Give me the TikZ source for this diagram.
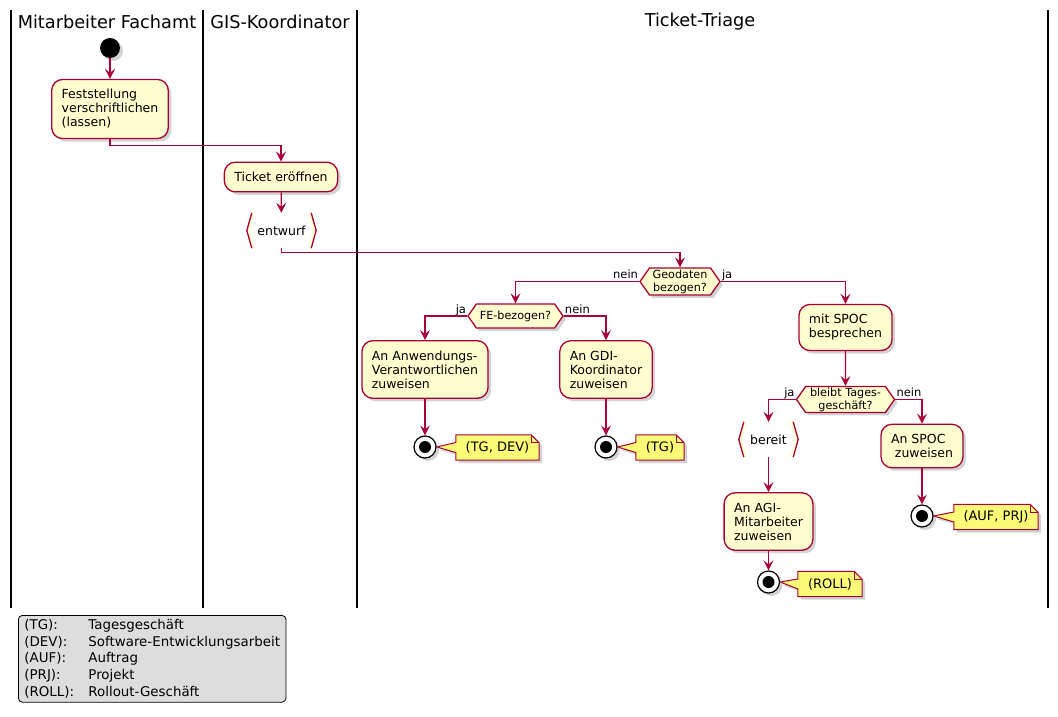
\documentclass[tikz,border=0pt]{standalone}
\usepackage{fontspec}
\setmainfont{DejaVu Sans}
\usetikzlibrary{positioning,shapes,shapes.symbols,arrows.meta,shadows,backgrounds}

\definecolor{umlred}{HTML}{A80036}
\definecolor{umlfill}{HTML}{FEFECE}
\definecolor{notefill}{HTML}{FBFB77}
\definecolor{legendfill}{HTML}{DDDDDD}

\newcommand{\drawnote}[2]{%
	\begin{pgfonlayer}{background}
	\draw[notebg] (#1.north west) -- ([xshift=-8pt]#1.north east) -- ([yshift=-8pt]#1.north east) -- (#1.south east) -- (#1.south west) -- ([yshift=-5pt]#1.west) -- (#2) -- ([yshift=5pt]#1.west) -- cycle;
	\draw[notefold] ([xshift=-8pt]#1.north east) |- ([yshift=-8pt]#1.north east);
	\end{pgfonlayer}}
\newcommand{\drawbrackets}[1]{%
	\fill[umlfill] ([xshift=5pt]#1.north west) -- (#1.west) -- ([xshift=5pt]#1.south west) -- ([xshift=8pt]#1.south west) -- ([xshift=3pt]#1.west) -- ([xshift=8pt]#1.north west) -- cycle;
	\fill[umlfill] ([xshift=-5pt]#1.north east) -- (#1.east) -- ([xshift=-5pt]#1.south east) -- ([xshift=-8pt]#1.south east) -- ([xshift=-3pt]#1.east) -- ([xshift=-8pt]#1.north east) -- cycle;
	\draw[bracketline] ([xshift=5pt]#1.north west) -- (#1.west) -- ([xshift=5pt]#1.south west);
	\draw[bracketline] ([xshift=-5pt]#1.north east) -- (#1.east) -- ([xshift=-5pt]#1.south east);}

\begin{document}
\begin{tikzpicture}[x=1pt,y=-1pt,
	umlshadow/.style={drop shadow={shadow xshift=3pt,shadow yshift=-3pt,opacity=0.35}},
	lane/.style={line width=1.5pt},
	lanetitle/.style={font=\fontsize{17.7}{20}\selectfont},
	action/.style={draw=umlred,fill=umlfill,line width=1.3pt,rounded corners=11pt,align=left,inner xsep=10pt,inner ysep=10pt,font=\fontsize{12.5}{14}\selectfont,umlshadow},
	decision/.style={draw=umlred,fill=umlfill,line width=1.3pt,shape=signal,signal from=nowhere,signal to=west and east,signal pointer angle=110,inner sep=1pt,align=center,font=\fontsize{11.2}{13}\selectfont,umlshadow},
	bracket/.style={minimum height=35pt,inner sep=0pt,font=\fontsize{12.5}{14}\selectfont},
	bracketline/.style={draw=umlred,line width=1.3pt},
	startnode/.style={circle,fill=black,minimum size=20pt,inner sep=0pt,umlshadow},
	endnode/.style={circle,draw=black,fill=white,line width=1.2pt,minimum size=22pt,inner sep=0pt,umlshadow,path picture={\fill[black] (path picture bounding box.center) circle (6pt);}},
	note/.style={minimum height=25pt,inner sep=0pt,font=\fontsize{13}{15}\selectfont},
	notebg/.style={draw=umlred,fill=notefill,line width=1pt,umlshadow},
	notefold/.style={draw=umlred,line width=1pt},
	lbl/.style={inner sep=1pt,font=\fontsize{11.5}{13}\selectfont},
	flow/.style={draw=umlred,line width=1.2pt,-{Stealth[length=10pt,width=10pt,inset=4pt]}}]
	\useasboundingbox (0,0) rectangle (1058,717);

	\draw[lane] (11,10) -- (11,608);
	\draw[lane] (203,10) -- (203,608);
	\draw[lane] (357,10) -- (357,608);
	\draw[lane] (1048,10) -- (1048,608);
	\node[lanetitle] (t1) at (107,22) {Mitarbeiter Fachamt};
	\node[lanetitle] (t2) at (280,22) {GIS-Koordinator};
	\node[lanetitle] (t3) at (700,22) {Ticket-Triage};

	\node[startnode] (start) at (110,48) {};
	\node[action] (fest) at (110,109) {Feststellung\\verschriftlichen\\(lassen)};
	\node[action] (ticket) at (281,177) {Ticket eröffnen};
	\node[bracket,minimum width=69pt] (ent) at (281.5,230.5) {entwurf};
	\drawbrackets{ent}

	\node[decision,minimum width=80pt,minimum height=27pt] (geo) at (680,281.5) {Geodaten\\bezogen?};
	\node[decision,minimum width=95pt,minimum height=24pt] (fe) at (515.5,316) {FE-bezogen?};
	\node[action] (anw) at (425,369.5) {An Anwendungs-\\Verantwortlichen\\zuweisen};
	\node[action] (gdi) at (606,369.5) {An GDI-\\Koordinator\\zuweisen};
	\node[endnode] (e1) at (425,447) {};
	\node[endnode] (e2) at (606,447) {};
	\node[note,minimum width=83pt] (n1) at (497.5,447.5) {(TG, DEV)};
	\node[note,minimum width=48pt] (n2) at (660,447.5) {(TG)};
	\drawnote{n1}{e1.east}
	\drawnote{n2}{e2.east}

	\node[action] (spoc) at (845.5,327.5) {mit SPOC\\besprechen};
	\node[decision,minimum width=98pt,minimum height=25pt] (tag) at (845.5,399.5) {bleibt Tages-\\geschäft?};
	\node[bracket,minimum width=59pt] (ber) at (768.5,439.5) {bereit};
	\drawbrackets{ber}
	\node[action] (agi) at (768.5,521.5) {An AGI-\\Mitarbeiter\\zuweisen};
	\node[endnode] (e3) at (768.5,582) {};
	\node[note,minimum width=64pt] (n3) at (830,584) {(ROLL)};
	\drawnote{n3}{e3.east}
	\node[action] (sz) at (922,446) {An SPOC\\\ zuweisen};
	\node[endnode] (e4) at (922,516) {};
	\node[note,minimum width=84pt] (n4) at (996,517) {(AUF, PRJ)};
	\drawnote{n4}{e4.east}

	\draw[flow] (start) -- (fest);
	\draw[flow] (fest.south) -- ++(0,6) -| (ticket.north);
	\draw[flow] (ticket) -- (ent);
	\draw[flow] (ent.south) -- ++(0,4) -| (geo.north);
	\draw[flow] (geo.west) -| (fe.north);
	\draw[flow] (geo.east) -| (spoc.north);
	\draw[flow] (fe.west) -| (anw.north);
	\draw[flow] (fe.east) -| (gdi.north);
	\draw[flow] (anw) -- (e1);
	\draw[flow] (gdi) -- (e2);
	\draw[flow] (spoc) -- (tag);
	\draw[flow] (tag.west) -| (ber.north);
	\draw[flow] (tag.east) -| (sz.north);
	\draw[flow] (ber) -- (agi);
	\draw[flow] (agi) -- (e3);
	\draw[flow] (sz) -- (e4);

	\node[lbl,anchor=base east] (l1) at ([yshift=3pt]geo.west) {nein};
	\node[lbl,anchor=base west] (l2) at ([yshift=3pt]geo.east) {ja};
	\node[lbl,anchor=base east] (l3) at ([yshift=3pt]fe.west) {ja};
	\node[lbl,anchor=base west] (l4) at ([yshift=3pt]fe.east) {nein};
	\node[lbl,anchor=base east] (l5) at ([yshift=3pt]tag.west) {ja};
	\node[lbl,anchor=base west] (l6) at ([yshift=3pt]tag.east) {nein};

	\node[draw,fill=legendfill,rounded corners=4pt,line width=0.8pt,anchor=north west,align=left,inner xsep=6pt,inner ysep=4pt,font=\fontsize{13.4}{16.7}\selectfont] (legend) at (18,615) {\makebox[64pt][l]{(TG):}Tagesgeschäft\\\makebox[64pt][l]{(DEV):}Software-Entwicklungsarbeit\\\makebox[64pt][l]{(AUF):}Auftrag\\\makebox[64pt][l]{(PRJ):}Projekt\\\makebox[64pt][l]{(ROLL):}Rollout-Geschäft};
\end{tikzpicture}
\end{document}
